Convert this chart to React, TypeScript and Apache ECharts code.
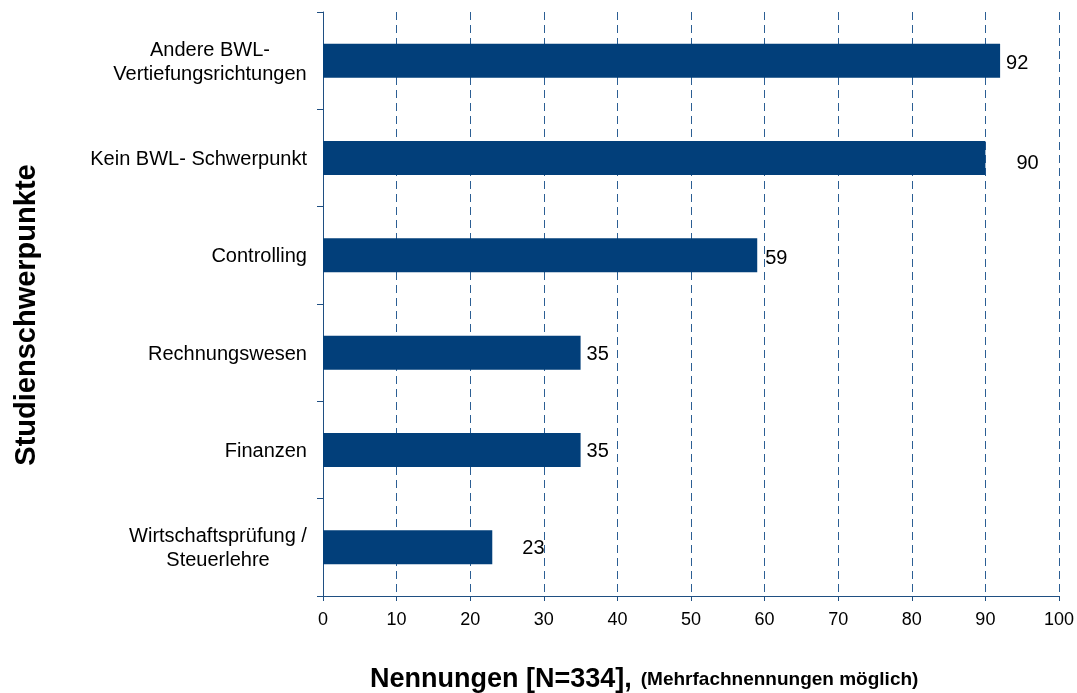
import React, { useEffect, useRef } from "react";
import * as echarts from "echarts";

const categories = [
  "Andere BWL-\nVertiefungsrichtungen",
  "Kein BWL- Schwerpunkt",
  "Controlling",
  "Rechnungswesen",
  "Finanzen",
  "Wirtschaftsprüfung /\nSteuerlehre",
];
const values = [92, 90, 59, 35, 35, 23];
const labelOffsets = [
  [1, 1],
  [26, 4],
  [3, 2],
  [1, 0],
  [1, 0],
  [25, 0],
];
const xTicks = { min: 0, max: 100, interval: 10 };

const FONT = "'Liberation Sans', Arial, sans-serif";

export default function App() {
  const ref = useRef<HTMLDivElement>(null);
  useEffect(() => {
    if (!ref.current) return;
    const chart = echarts.init(ref.current, undefined, { renderer: "svg" });
    chart.setOption({
      animation: false,
      textStyle: { fontFamily: FONT },
      grid: { left: 323, right: 18, top: 12, bottom: 97, containLabel: false },
      xAxis: {
        type: "value",
        min: xTicks.min,
        max: xTicks.max,
        interval: xTicks.interval,
        axisLine: { show: true, lineStyle: { color: "#1f4f82", width: 1 } },
        axisTick: { show: true, length: 5, lineStyle: { color: "#1f4f82" } },
        axisLabel: { color: "#000", fontSize: 18, fontFamily: FONT, margin: 14 },
        splitLine: {
          show: true,
          lineStyle: { color: "#2c5f94", type: [8, 5], width: 1 },
        },
      },
      yAxis: {
        type: "category",
        inverse: true,
        data: categories,
        axisLine: { show: true, lineStyle: { color: "#1f4f82", width: 1 } },
        axisTick: { show: true, length: 6, alignWithLabel: false, lineStyle: { color: "#1f4f82" } },
        axisLabel: {
          color: "#000",
          fontSize: 20,
          fontFamily: FONT,
          margin: 16,
          lineHeight: 24,
          formatter: (v: string, idx: number) =>
            v.includes("\n")
              ? v
                  .split("\n")
                  .map((s) => `{${idx === 0 ? "c1" : "c2"}|${s}}`)
                  .join("\n")
              : v,
          rich: {
            c1: {
              width: 194,
              align: "center",
              fontSize: 20,
              fontFamily: FONT,
              color: "#000",
              lineHeight: 24,
            },
            c2: {
              width: 178,
              align: "center",
              fontSize: 20,
              fontFamily: FONT,
              color: "#000",
              lineHeight: 24,
            },
          },
        },
        splitLine: { show: false },
      },
      series: [
        {
          type: "bar",
          barWidth: 34,
          itemStyle: { color: "#023f7a" },
          data: values.map((v, i) => ({
            value: v,
            label: {
              show: true,
              position: "right",
              distance: 5,
              offset: labelOffsets[i],
              color: "#000",
              fontSize: 20,
              fontFamily: FONT,
            },
          })),
        },
      ],
      graphic: [
        {
          type: "text",
          x: 25,
          y: 315,
          rotation: Math.PI / 2,
          style: {
            text: "Studienschwerpunkte",
            fontFamily: FONT,
            fontSize: 29,
            fontWeight: "bold",
            fill: "#000",
            textAlign: "center",
            textVerticalAlign: "middle",
          },
        },
        {
          type: "text",
          x: 370,
          y: 678,
          style: {
            text: "{a|Nennungen [N=334],}{s| }{b|(Mehrfachnennungen möglich)}",
            fontFamily: FONT,
            fill: "#000",
            textAlign: "left",
            textVerticalAlign: "middle",
            rich: {
              a: { fontSize: 27, fontWeight: "bold", fontFamily: FONT, fill: "#000" },
              s: { fontSize: 19, width: 9 },
              b: { fontSize: 19, fontWeight: "bold", fontFamily: FONT, fill: "#000" },
            },
          },
        },
      ],
    });
    return () => chart.dispose();
  }, []);
  return (
    <div
      ref={ref}
      style={{ position: "fixed", left: 0, top: 0, width: 1077, height: 693 }}
    />
  );
}
